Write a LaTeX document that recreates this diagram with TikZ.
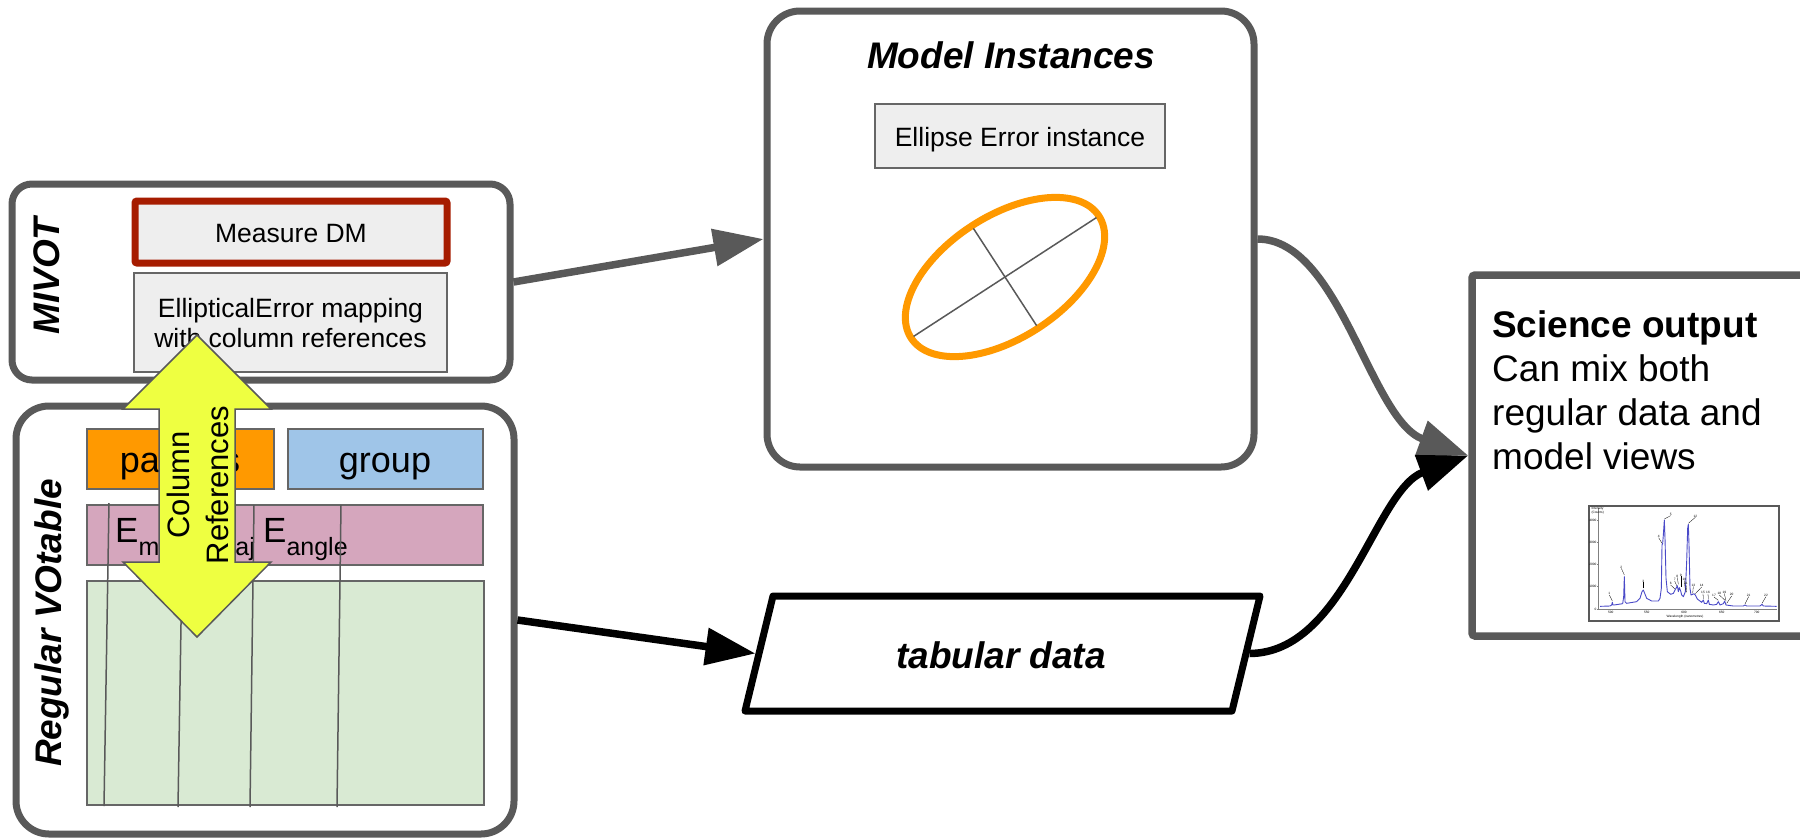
\documentclass[tikz,border=0pt]{standalone}
\usepackage{fontspec}
\setmainfont{Liberation Sans}
\usetikzlibrary{arrows.meta}
\definecolor{dg}{HTML}{595959}
\definecolor{mg}{HTML}{666666}
\definecolor{lg}{HTML}{EEEEEE}
\definecolor{redb}{HTML}{A61C00}
\definecolor{orng}{HTML}{FF9900}
\definecolor{blu}{HTML}{9FC5E8}
\definecolor{pnk}{HTML}{D5A6BD}
\definecolor{grn}{HTML}{D9EAD3}
\definecolor{ylw}{HTML}{EEFF41}
\definecolor{spec}{HTML}{4A4AC8}
\newcommand{\myfs}[2]{\fontsize{#1}{#2}\selectfont}
\begin{document}
\begin{tikzpicture}[x=1pt,y=-1pt,
  bigbox/.style={draw=dg, line width=7pt, fill=white, rounded corners=33pt, inner sep=0pt},
  inbox/.style={draw=mg, line width=1.5pt, fill=lg, inner sep=0pt},
  cellbox/.style={draw=mg, line width=1.5pt, inner sep=0pt},
  txt/.style={inner sep=0pt, anchor=base},
  ttl/.style={txt, font=\myfs{37}{44}\bfseries\itshape},
  grayarrow/.style={draw=dg, line width=7.5pt, -{Triangle[length=50pt,width=36pt]}},
  blackarrow/.style={draw=black, line width=7.5pt, -{Triangle[length=50pt,width=36pt]}},
  gridline/.style={draw=dg, line width=1.5pt},
  tiny/.style={inner sep=0pt, font=\myfs{3.2}{3.6}},
]
\useasboundingbox (0,0) rectangle (1800,839);
\clip (0,0) rectangle (1800,839);

% main boxes
\node[bigbox, rounded corners=20pt, minimum width=498pt, minimum height=196pt] (mivot) at (261,282) {};
\node[bigbox, minimum width=487pt, minimum height=456pt] (model) at (1010.5,239) {};
\node[bigbox, minimum width=498pt, minimum height=428pt] (votable) at (265,620) {};
\node[bigbox, rounded corners=3pt, line width=7.5pt, minimum width=338pt, minimum height=361pt] (science) at (1641,455.5) {};
\node[inner sep=0pt, outer sep=3.5pt, minimum width=487pt, minimum height=115pt] (tabular) at (1002.5,653.5) {};
\draw[line width=7pt, line join=round, fill=white] (773,596) -- (1260,596) -- (1232,711) -- (745,711) -- cycle;

% MIVOT content
\node[inbox, draw=redb, line width=7pt, rounded corners=2pt, minimum width=312pt, minimum height=62pt] (measure) at (291,232) {};
\node[txt, font=\myfs{26.5}{30}] (measuretxt) at (291,242) {Measure DM};
\node[inbox, minimum width=313pt, minimum height=99pt] (ellmap) at (290.5,322.5) {};
\node[txt, font=\myfs{26.5}{30}] (ellmap1) at (290.5,317) {EllipticalError mapping};
\node[txt, font=\myfs{26.5}{30}] (ellmap2) at (290.5,347) {with column references};
\node[ttl, rotate=90] (mivotlbl) at (59,276) {MIVOT};

% Model instances content
\node[ttl] (modellbl) at (1011,68) {Model Instances};
\node[inbox, minimum width=290pt, minimum height=64pt] (eeinst) at (1020,136) {};
\node[txt, font=\myfs{26.5}{30}] (eeinsttxt) at (1020,146) {Ellipse Error instance};
\draw[orng, line width=7pt, rotate around={33:(1005,277)}] (1005,277) ellipse [x radius=112pt, y radius=61pt];
\draw[dg, line width=1.5pt] (913.6,336.4) -- (1096.4,217.6);
\draw[dg, line width=1.5pt] (973.4,228.4) -- (1036.6,325.6);

% VOtable content
\node[cellbox, fill=orng, minimum width=187pt, minimum height=60pt] (params) at (180.5,459) {};
\node[cellbox, fill=blu, minimum width=195pt, minimum height=60pt] (group) at (385.5,459) {};
\node[cellbox, fill=pnk, minimum width=396pt, minimum height=60pt] (cols) at (285,535) {};
\node[cellbox, fill=grn, minimum width=397pt, minimum height=224pt] (rows) at (285.5,693) {};
\node[txt, font=\myfs{36}{40}] (paramstxt) at (180,472) {params};
\node[txt, font=\myfs{36}{40}] (grouptxt) at (385,472) {group};
\node[txt, anchor=base west, font=\myfs{35}{40}] (emin) at (115,542) {E\raisebox{-13.5pt}{\myfs{25}{28}min}};
\node[txt, anchor=base west, font=\myfs{35}{40}] (emaj) at (191,542) {E\raisebox{-13.5pt}{\myfs{25}{28}maj}};
\node[txt, anchor=base west, font=\myfs{35}{40}] (eang) at (263,542) {E\raisebox{-13.5pt}{\myfs{25}{28}angle}};
\draw[gridline] (109,503) -- (104,806);
\draw[gridline] (183,503) -- (178,807);
\draw[gridline] (254,505) -- (250,807);
\draw[gridline] (341,505) -- (337,807);
\node[ttl, rotate=90] (votlbl) at (61,623) {Regular VOtable};

% tabular data text
\node[ttl] (tabtxt) at (1001,668) {tabular data};

% science output content
\node[txt, anchor=base west, font=\myfs{37}{44}\bfseries] (sci1) at (1492,337) {Science output};
\node[txt, anchor=base west, font=\myfs{37}{44}] (sci2) at (1492,381) {Can mix both};
\node[txt, anchor=base west, font=\myfs{37}{44}] (sci3) at (1492,425) {regular data and};
\node[txt, anchor=base west, font=\myfs{37}{44}] (sci4) at (1492,469) {model views};

% spectrum chart
\begin{scope}[shift={(1580,495)}, x=0.33333pt, y=-0.33333pt]
  \draw[draw=dg, line width=2pt, fill=white] (28,32) rectangle (598,378);
  \draw[gray, line width=0.5pt] (55,40) -- (55,342) -- (590,342);
  \foreach \yy/\lab in {77/4000,142/3000,208/2000,275/1000,342/0} {
    \draw[gray, line width=0.4pt] (52,\yy) -- (55,\yy);
    \node[tiny, anchor=east] at (50,\yy) {\lab};
  }
  \foreach \xx/\lab in {92/500,200/550,312/600,425/650,530/700} {
    \draw[gray, line width=0.4pt] (\xx,342) -- (\xx,345);
    \node[tiny, anchor=north] at (\xx,348) {\lab};
  }
  \node[tiny, anchor=north west, align=left] at (34,36) {Intensity\\(Counts)};
  \node[tiny, anchor=north] at (315,360) {Wavelength (nanometres)};
  \draw[spec, line width=0.9pt, line join=round] plot coordinates {
    (60,334) (90,333) (95,330) (97,322) (99,330) (102,330) (128,326) (131,305) (133,245) (135,320) (140,325)
    (170,320) (180,310) (186,290) (190,285) (194,295) (200,310) (215,318) (235,318) (240,310) (244,280)
    (246,150) (248,145) (250,120) (253,75) (255,130) (258,250) (262,290) (272,298) (280,295) (285,285)
    (288,280) (292,272) (295,290) (298,278) (302,288) (305,300) (310,305) (316,290) (320,200) (323,100)
    (325,88) (327,150) (330,280) (333,300) (338,298) (342,296) (346,300) (352,312) (365,322) (370,315)
    (373,325) (380,326) (385,315) (388,328) (400,330) (410,328) (415,320) (420,330) (430,326) (434,318)
    (438,330) (460,333) (490,333) (495,330) (500,333) (540,333) (546,328) (550,333) (590,334)};
  \foreach \px/\py/\lx/\ly/\lab in {
    97/318/88/300/1, 133/240/124/220/2, 190/280/190/262/3, 246/145/236/128/4, 253/72/272/62/5,
    285/282/272/270/6, 290/272/284/258/7, 295/268/292/248/8, 302/275/302/244/9, 316/286/313/257/10,
    320/292/318/270/11, 325/85/346/67/12, 338/295/340/274/13, 346/296/365/276/14, 370/312/369/296/15,
    385/312/384/297/16, 415/316/402/306/17, 434/315/418/300/18, 438/318/433/296/19, 440/325/455/303/20,
    495/327/506/305/21, 546/325/558/305/22} {
    \draw[black, line width=0.3pt] (\px,\py) -- (\lx,\ly);
    \node[tiny, anchor=south] at (\lx,\ly) {\lab};
  }
\end{scope}

% yellow double arrow
\draw[fill=ylw, draw=dg, line width=1.5pt, line join=miter] (197,335) -- (271,409) -- (235,409) -- (235,562) -- (271,562) -- (197,637) -- (123,562) -- (159,562) -- (159,409) -- (123,409) -- cycle;
\node[txt, rotate=90, font=\myfs{31}{37}] (colref1) at (189,485) {Column};
\node[txt, rotate=90, font=\myfs{31}{37}] (colref2) at (228,485) {References};

% connectors
\draw[grayarrow] (mivot.east) -- (model.west);
\draw[blackarrow] (votable.east) -- (tabular.west);
\draw[grayarrow] (model.east) .. controls (1340,239) and (1370,420) .. (science.west);
\draw[blackarrow] (tabular.east) .. controls (1345,653) and (1375,490) .. (science.west);
\end{tikzpicture}
\end{document}
